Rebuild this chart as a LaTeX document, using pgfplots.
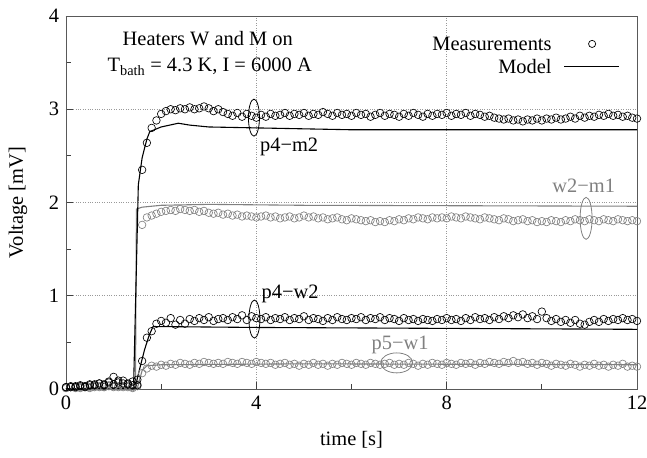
\documentclass[border=0pt]{standalone}
\usepackage{pgfplots}
\pgfplotsset{compat=1.18}
\usepackage{pgfplotstable}
\usepackage{fontspec}
\setmainfont{Liberation Serif}
\definecolor{grayc}{gray}{0.5}
\pgfplotsset{
  measleg/.style={legend image code/.code={\path (0bp,0bp) (55bp,0bp); \draw[##1] plot coordinates {(28bp,0bp)};}},
  lineleg/.style={legend image code/.code={\draw[##1] (0bp,0bp) -- (55bp,0bp);}},
}
\pgfplotstableread{
t a b c d
0.0 0.02 0.01 0.02 0.01
0.1 0.03 0.02 0.02 0.02
0.2 0.02 0.02 0.03 0.01
0.3 0.04 0.01 0.03 0.02
0.4 0.03 0.03 0.02 0.02
0.5 0.05 0.02 0.04 0.01
0.6 0.04 0.02 0.05 0.03
0.7 0.06 0.03 0.06 0.02
0.8 0.05 0.02 0.04 0.02
0.9 0.08 0.04 0.07 0.03
1.0 0.13 0.03 0.05 0.02
1.1 0.07 0.03 0.09 0.02
1.2 0.09 0.02 0.06 0.03
1.3 0.06 0.03 0.05 0.02
1.4 0.08 0.02 0.04 0.01
1.5 0.10 0.05 0.04 0.03
1.6 2.35 1.76 0.30 0.17
1.7 2.64 1.84 0.55 0.22
1.8 2.80 1.86 0.62 0.25
1.9 2.88 1.88 0.70 0.24
2.0 2.95 1.90 0.73 0.26
2.1 2.98 1.91 0.71 0.25
2.2 3.00 1.92 0.76 0.27
2.3 2.99 1.91 0.69 0.26
2.4 3.01 1.93 0.74 0.28
2.5 3.00 1.92 0.70 0.27
2.6 3.02 1.91 0.75 0.26
2.7 3.00 1.92 0.73 0.28
2.8 3.01 1.90 0.76 0.27
2.9 3.03 1.91 0.74 0.29
3.0 3.01 1.89 0.77 0.28
3.1 2.98 1.88 0.73 0.27
3.2 3.00 1.89 0.75 0.28
3.3 2.97 1.87 0.76 0.27
3.4 2.95 1.88 0.74 0.29
3.5 2.93 1.86 0.77 0.28
3.6 2.96 1.87 0.75 0.27
3.7 2.92 1.85 0.79 0.29
3.8 2.95 1.86 0.74 0.28
3.9 2.93 1.85 0.78 0.27
4.0 2.91 1.84 0.76 0.29
4.1 2.94 1.85 0.75 0.28
4.2 2.92 1.86 0.77 0.27
4.3 2.95 1.84 0.74 0.28
4.4 2.93 1.85 0.76 0.26
4.5 2.94 1.83 0.75 0.27
4.6 2.96 1.84 0.77 0.28
4.7 2.93 1.85 0.74 0.26
4.8 2.95 1.83 0.76 0.27
4.9 2.94 1.84 0.75 0.25
5.0 2.96 1.86 0.78 0.27
5.1 2.93 1.84 0.74 0.26
5.2 2.95 1.85 0.76 0.28
5.3 2.94 1.83 0.75 0.26
5.4 2.97 1.84 0.73 0.27
5.5 2.95 1.82 0.76 0.25
5.6 2.93 1.83 0.74 0.27
5.7 2.96 1.84 0.77 0.26
5.8 2.94 1.82 0.75 0.28
5.9 2.95 1.81 0.74 0.27
6.0 2.93 1.83 0.76 0.26
6.1 2.96 1.82 0.75 0.28
6.2 2.94 1.81 0.77 0.27
6.3 2.95 1.80 0.74 0.26
6.4 2.92 1.81 0.76 0.28
6.5 2.94 1.79 0.75 0.27
6.6 2.96 1.80 0.77 0.26
6.7 2.93 1.79 0.74 0.27
6.8 2.95 1.81 0.76 0.28
6.9 2.94 1.80 0.75 0.26
7.0 2.92 1.82 0.73 0.27
7.1 2.95 1.81 0.76 0.26
7.2 2.93 1.83 0.74 0.28
7.3 2.96 1.82 0.75 0.27
7.4 2.94 1.84 0.73 0.25
7.5 2.92 1.83 0.75 0.27
7.6 2.95 1.82 0.74 0.26
7.7 2.93 1.84 0.73 0.28
7.8 2.95 1.83 0.75 0.27
7.9 2.94 1.84 0.74 0.26
8.0 2.96 1.83 0.76 0.28
8.1 2.93 1.85 0.74 0.27
8.2 2.95 1.84 0.75 0.26
8.3 2.94 1.83 0.73 0.28
8.4 2.96 1.85 0.76 0.27
8.5 2.93 1.84 0.74 0.28
8.6 2.95 1.83 0.77 0.26
8.7 2.94 1.82 0.75 0.28
8.8 2.92 1.84 0.76 0.27
8.9 2.93 1.83 0.74 0.29
9.0 2.91 1.82 0.77 0.28
9.1 2.90 1.81 0.75 0.27
9.2 2.89 1.83 0.78 0.29
9.3 2.90 1.82 0.76 0.28
9.4 2.88 1.80 0.79 0.30
9.5 2.89 1.81 0.77 0.28
9.6 2.87 1.82 0.80 0.29
9.7 2.89 1.80 0.76 0.27
9.8 2.88 1.81 0.78 0.28
9.9 2.90 1.79 0.75 0.26
10.0 2.88 1.80 0.83 0.28
10.1 2.90 1.79 0.76 0.27
10.2 2.89 1.81 0.73 0.25
10.3 2.91 1.80 0.75 0.27
10.4 2.89 1.79 0.72 0.26
10.5 2.90 1.81 0.74 0.25
10.6 2.92 1.80 0.71 0.27
10.7 2.90 1.82 0.74 0.26
10.8 2.93 1.81 0.70 0.24
10.9 2.91 1.80 0.69 0.26
11.0 2.93 1.82 0.72 0.25
11.1 2.92 1.81 0.74 0.27
11.2 2.94 1.80 0.72 0.25
11.3 2.93 1.82 0.75 0.26
11.4 2.95 1.81 0.73 0.24
11.5 2.93 1.80 0.75 0.26
11.6 2.94 1.82 0.74 0.25
11.7 2.92 1.81 0.76 0.27
11.8 2.93 1.80 0.74 0.24
11.9 2.91 1.81 0.75 0.25
12.0 2.90 1.80 0.73 0.24
}\meas
\newcommand{\fs}{\fontsize{20.5}{24}\selectfont}
\begin{document}
\fs
\begin{tikzpicture}
\begin{axis}[
  scale only axis, width=571bp, height=373bp,
  xmin=0, xmax=12, ymin=0, ymax=4,
  xtick={0,4,8,12}, minor xtick={2,6,10},
  ytick={0,1,2,3,4}, minor ytick={0.5,1.5,2.5,3.5},
  xtick pos=bottom, ytick pos=left,
  tick align=inside,
  major tick length=7bp, minor tick length=5bp,
  xmajorgrids, ymajorgrids,
  major grid style={dotted, black!40, line width=0.6pt},
  axis line style={black!65, line width=0.8pt},
  every tick/.style={black!75, line width=0.8pt},
  /pgf/number format/assume math mode=true,
  ticklabel style={font=\fs},
  label style={font=\fs},
  xlabel={time [s]}, ylabel={Voltage [mV]},
  every axis y label/.style={at={(axis description cs:-0.084,0.5)}, rotate=90, anchor=center},
  every axis x label/.style={at={(axis description cs:0.5,-0.137)}, anchor=center},
  clip=false,
  legend style={at={(0.970,0.956)}, anchor=north east, draw=none, fill=none, inner sep=0pt,
    font=\fs, column sep=12bp,
    nodes={text height=14bp, text depth=0bp, inner ysep=4.3bp, inner xsep=0bp}},
  legend cell align=right, legend plot pos=right,
]
% models
\addplot[grayc, line width=1.1pt, forget plot] coordinates {(0,0) (1.46,0.01) (1.48,1.93) (1.6,1.95) (2,1.97) (3,1.98) (5,1.97) (12,1.96)};
\addplot[grayc, line width=1.1pt, forget plot] coordinates {(0,0) (1.5,0.01) (1.6,0.2) (1.7,0.25) (2,0.26) (5,0.27) (12,0.26)};
\addplot[black, line width=1.1pt, forget plot] coordinates {(0,0) (1.42,0.01) (1.52,2.19) (1.6,2.48) (1.7,2.68) (1.76,2.76) (2.0,2.81) (2.36,2.85) (2.6,2.83) (3,2.81) (4,2.80) (6,2.78) (12,2.78)};
\addplot[black, line width=1.1pt, forget plot] coordinates {(0,0) (1.45,0.01) (1.55,0.22) (1.65,0.42) (1.75,0.58) (1.83,0.67) (4,0.66) (8,0.65) (12,0.64)};
% measurements
\addplot[only marks, mark=o, mark size=3.8pt, grayc, mark options={line width=0.65pt}, forget plot] table[x=t, y=b] {\meas};
\addplot[only marks, mark=o, mark size=3.8pt, grayc, mark options={line width=0.65pt}, forget plot] table[x=t, y=d] {\meas};
\addplot[only marks, mark=o, mark size=3.8pt, black, mark options={line width=0.65pt}, forget plot] table[x=t, y=a] {\meas};
\addplot[only marks, mark=o, mark size=3.8pt, black, mark options={line width=0.65pt}, forget plot] table[x=t, y=c] {\meas};
% legend
\addlegendimage{only marks, mark=o, mark size=3.6pt, black, mark options={line width=0.7pt}, measleg}
\addlegendentry{Measurements}
\addlegendimage{black, line width=1.1pt, lineleg}
\addlegendentry{Model}
% annotations
\node[anchor=base] at (axis cs:2.98,3.68) {Heaters W and M on};
\node[anchor=base] at (axis cs:3.02,3.40) {T\textsubscript{bath} = 4.3 K, I = 6000 A};
\draw[black, line width=0.8pt] (axis cs:3.95,2.91) ellipse [x radius=5.5bp, y radius=18.5bp];
\node[anchor=base] at (axis cs:4.69,2.55) {p4−m2};
\draw[black, line width=0.8pt] (axis cs:3.96,0.75) ellipse [x radius=5.5bp, y radius=19bp];
\node[anchor=base] at (axis cs:4.71,0.97) {p4−w2};
\draw[grayc, line width=0.8pt] (axis cs:10.93,1.83) ellipse [x radius=6bp, y radius=21bp];
\node[anchor=base, text=grayc] at (axis cs:10.88,2.11) {w2−m1};
\draw[grayc, line width=0.8pt] (axis cs:6.95,0.28) ellipse [x radius=16bp, y radius=10bp];
\node[anchor=base, text=grayc] at (axis cs:7.02,0.42) {p5−w1};
\end{axis}
\pgfresetboundingbox
\path[use as bounding box] (-66bp,-69bp) rectangle (581bp,389bp);
\end{tikzpicture}
\end{document}
